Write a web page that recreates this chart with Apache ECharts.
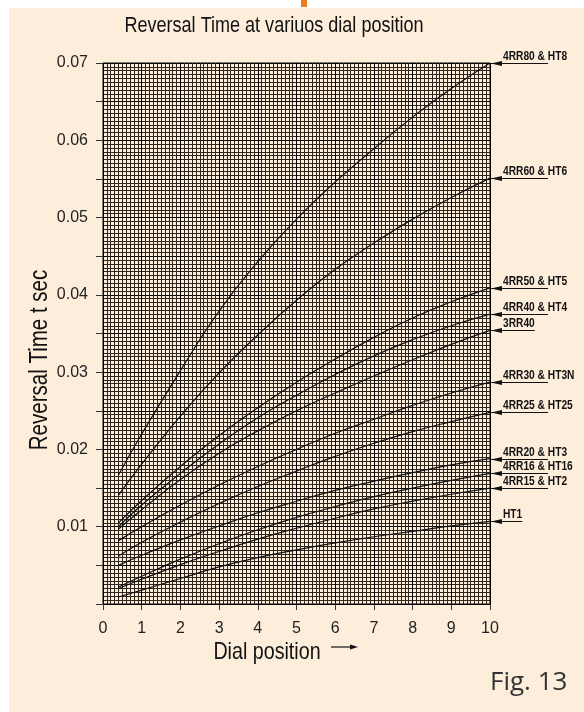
<!DOCTYPE html>
<html><head><meta charset="utf-8">
<script src="https://cdn.jsdelivr.net/npm/echarts@6/dist/echarts.min.js"></script>
<style>html,body{margin:0;padding:0;background:#fff}#c{width:584px;height:712px}</style>
</head><body><div id="c"></div><script>
const dial = [0.4, 1, 2, 3, 4, 5, 6, 7, 8, 9, 10];
const rr80 = [0.0167,0.0220,0.0302,0.0379,0.0443,0.0498,0.0546,0.0589,0.0630,0.0667,0.0700];
const rr60 = [0.0141,0.0181,0.0243,0.0299,0.0348,0.0393,0.0433,0.0467,0.0498,0.0526,0.0551];
const rr50 = [0.0105,0.0134,0.0178,0.0218,0.0254,0.0287,0.0317,0.0345,0.0370,0.0391,0.0409];
const rr40 = [0.0100,0.0128,0.0169,0.0207,0.0241,0.0270,0.0297,0.0321,0.0342,0.0360,0.0375];
const rr40b = [0.0097,0.0122,0.0161,0.0195,0.0224,0.0250,0.0273,0.0295,0.0316,0.0336,0.0354];
const rr30 = [0.0082,0.0100,0.0128,0.0154,0.0178,0.0200,0.0221,0.0239,0.0257,0.0273,0.0287];
const rr25 = [0.0062,0.0080,0.0106,0.0130,0.0152,0.0172,0.0191,0.0208,0.0223,0.0236,0.0248];
const rr20 = [0.0050,0.0063,0.0083,0.0101,0.0118,0.0133,0.0147,0.0159,0.0170,0.0180,0.0188];
const rr16 = [0.0022,0.0036,0.0058,0.0078,0.0096,0.0112,0.0126,0.0139,0.0150,0.0160,0.0169];
const rr15 = [0.0020,0.0032,0.0051,0.0068,0.0084,0.0098,0.0111,0.0123,0.0133,0.0142,0.0150];
const ht1 = [0.0009,0.0018,0.0033,0.0048,0.0060,0.0070,0.0079,0.0087,0.0094,0.0101,0.0107];
const curveNames = ["4RR80 & HT8","4RR60 & HT6","4RR50 & HT5","4RR40 & HT4","3RR40","4RR30 & HT3N","4RR25 & HT25","4RR20 & HT3","4RR16 & HT16","4RR15 & HT2","HT1"];
const curveValues = [rr80, rr60, rr50, rr40, rr40b, rr30, rr25, rr20, rr16, rr15, ht1];
const titleText = "Reversal Time at variuos dial position";
const xName = "Dial position";
const yName = "Reversal Time t sec";
const figText = "Fig. 13";

const SANS = "'Liberation Sans', Arial, sans-serif";
const NS = 0.82; // narrow emulation
const chart = echarts.init(document.getElementById('c'), null, {renderer: 'canvas'});

const series = curveValues.map((vals, k) => ({
  name: curveNames[k], type: 'line', smooth: true, symbol: 'none',
  lineStyle: {color: '#111', width: 1.2}, z: 5,
  data: dial.map((d, i) => [d, vals[i]])
}));

chart.setOption({
  backgroundColor: '#fdeddb',
  animation: false,
  grid: {left: 103, right: 94, top: 63, bottom: 108, show: true, borderColor: '#000', borderWidth: 1, backgroundColor: 'transparent'},
  xAxis: {
    type: 'value', min: 0, max: 10, interval: 1, offset: 6,
    axisLine: {show: false},
    axisTick: {show: true, length: 6, lineStyle: {color: '#333', width: 1}},
    axisLabel: {fontFamily: SANS, fontSize: 16, color: '#222', margin: 11},
    splitLine: {show: true, lineStyle: {color: '#000', width: 1}},
    minorTick: {show: false, splitNumber: 10},
    minorSplitLine: {show: true, lineStyle: {color: '#2e251d', width: 1}}
  },
  yAxis: {
    type: 'value', min: 0, max: 0.07, interval: 0.005, offset: 6,
    axisLine: {show: false},
    axisTick: {show: true, length: 7, lineStyle: {color: '#333', width: 1}},
    axisLabel: {fontFamily: SANS, fontSize: 16, color: '#222', margin: 9,
      formatter: v => { const m = Math.round(v * 1000); return (m > 0 && m % 10 === 0) ? (m / 1000).toFixed(2) : ''; }},
    splitLine: {show: true, lineStyle: {color: '#000', width: 1}},
    minorTick: {show: false, splitNumber: 10},
    minorSplitLine: {show: true, lineStyle: {color: '#2e251d', width: 1}}
  },
  series: series
});

const ctx = document.createElement('canvas').getContext('2d');
const labelFont = "bold 12px " + SANS;
ctx.font = labelFont;

const g = [
  {type: 'rect', shape: {x: 0, y: 0, width: 584, height: 8}, style: {fill: '#fff'}, silent: true},
  {type: 'rect', shape: {x: 0, y: 0, width: 9, height: 712}, style: {fill: '#fff'}, silent: true},
  {type: 'rect', shape: {x: 301, y: 0, width: 6, height: 7}, style: {fill: '#f07b1c'}, silent: true},
  {type: 'text', x: 274, y: 26, scaleX: NS, style: {text: titleText, font: "22px " + SANS, fill: '#111', textAlign: 'center', textVerticalAlign: 'middle'}},
  {type: 'text', x: 40, y: 360, rotation: Math.PI / 2, scaleX: NS, style: {text: yName, font: "25px " + SANS, fill: '#111', textAlign: 'center', textVerticalAlign: 'middle'}},
  {type: 'text', x: 267, y: 652, scaleX: NS, style: {text: xName, font: "24px " + SANS, fill: '#111', textAlign: 'center', textVerticalAlign: 'middle'}},
  {type: 'line', shape: {x1: 331, y1: 647, x2: 352, y2: 647}, style: {stroke: '#111', lineWidth: 1.2}},
  {type: 'polygon', shape: {points: [[358, 647], [350, 644.5], [350, 649.5]]}, style: {fill: '#111'}},
  {type: 'text', x: 490, y: 683, style: {text: figText, font: "26px 'Open Sans', 'Noto Sans', sans-serif", fill: '#333', textAlign: 'left', textVerticalAlign: 'middle'}}
];

curveValues.forEach((vals, k) => {
  const p = chart.convertToPixel({gridIndex: 0}, [dial[dial.length - 1], vals[vals.length - 1]]);
  const x = p[0], y = Math.round(p[1]) + 0.5;
  const tx = x + 13;
  const tw = ctx.measureText(curveNames[k]).width * 0.85;
  const endX = Math.min(tx + tw, x + 58);
  g.push({type: 'line', shape: {x1: x + 1, y1: y, x2: endX, y2: y}, style: {stroke: '#111', lineWidth: 1}, z: 10});
  g.push({type: 'polygon', shape: {points: [[x + 1, y], [x + 12, y - 2.5], [x + 12, y + 2.5]]}, style: {fill: '#111'}, z: 10});
  g.push({type: 'text', x: tx, y: y - 1, scaleX: 0.85, style: {text: curveNames[k], font: labelFont, fill: '#111', textAlign: 'left', textVerticalAlign: 'bottom'}, z: 10});
});

chart.setOption({graphic: g});
</script></body></html>
